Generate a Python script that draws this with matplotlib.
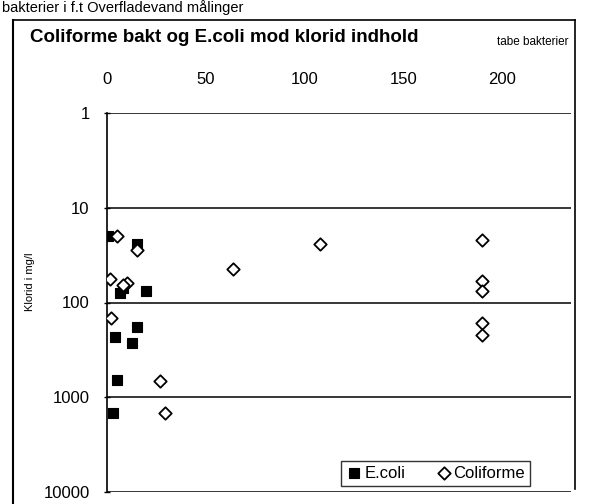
import matplotlib
matplotlib.use("Agg")
import matplotlib.pyplot as plt
from matplotlib.lines import Line2D

plt.rcParams["font.family"] = ["Liberation Sans", "DejaVu Sans"]

# Data
ecoli_x = [0.5, 15, 6.5, 8, 20, 15, 4, 12.5, 5, 3]
ecoli_y = [20, 24, 80, 70, 75, 180, 230, 270, 660, 1470]

coli_x = [5, 15, 1.5, 10, 8, 2, 64, 108, 190, 190, 190, 190, 190, 27, 29.5]
coli_y = [20, 28, 56, 62, 66, 145, 44, 24, 22, 59, 75, 165, 222, 680, 1470]

x_ticks = [0, 50, 100, 150, 200]
y_ticks = [1, 10, 100, 1000, 10000]
y_tick_labels = ["1", "10", "100", "1000", "10000"]

W, H = 597, 504
fig = plt.figure(figsize=(W / 100, H / 100), dpi=100)
fig.patch.set_facecolor("white")

left, right, top, bottom = 107, 571, 113, 492
ax = fig.add_axes([left / W, 1 - bottom / H, (right - left) / W, (bottom - top) / H])

ax.set_yscale("log")
ax.set_ylim(10000, 1)
ax.set_xlim(0, 235)

ax.scatter(ecoli_x, ecoli_y, marker="s", s=55, c="black", edgecolors="black",
           linewidths=0.8, zorder=3, label="E.coli")
ax.scatter(coli_x, coli_y, marker="D", s=40, facecolors="white", edgecolors="black",
           linewidths=1.3, zorder=4, label="Coliforme")

ax.set_yticks(y_ticks)
ax.set_yticklabels(y_tick_labels)
ax.yaxis.set_minor_locator(matplotlib.ticker.NullLocator())
ax.set_xticks(x_ticks)
ax.xaxis.tick_top()
ax.tick_params(axis="x", length=0, pad=19, labelsize=12)
ax.tick_params(axis="y", length=5, width=1, pad=10, labelsize=12, direction="inout")

for v in y_ticks:
    ax.axhline(v, color="black", lw=1.1, zorder=1)

for s in ["top", "right", "bottom"]:
    ax.spines[s].set_visible(False)
ax.spines["left"].set_linewidth(1.2)

leg = ax.legend(loc="lower right", bbox_to_anchor=(0.93, -0.005), ncol=2, frameon=True,
                fontsize=12, handletextpad=0.1, columnspacing=1.8,
                borderpad=0.3, handlelength=1.0, fancybox=False)
leg.get_frame().set_edgecolor("black")
leg.get_frame().set_linewidth(1.0)

# Chart frame (left, top, right)
fig.add_artist(Line2D([13 / W, 13 / W], [0, 1 - 20 / H], color="black", lw=1.5,
                      transform=fig.transFigure))
fig.add_artist(Line2D([13 / W, 575 / W], [1 - 20 / H, 1 - 20 / H], color="black", lw=1.2,
                      transform=fig.transFigure))
fig.add_artist(Line2D([575 / W, 575 / W], [0.03, 1 - 20 / H], color="black", lw=1.2,
                      transform=fig.transFigure))

fig.text(30 / W, 1 - 37 / H, "Coliforme bakt og E.coli mod klorid indhold",
         fontsize=13.5, fontweight="bold", ha="left", va="center")
fig.text(497 / W, 1 - 42 / H, "tabe bakterier", fontsize=8.5, ha="left", va="center")
fig.text(2 / W, 1 - 8 / H, "bakterier i f.t Overfladevand målinger", fontsize=10.5,
         ha="left", va="center")
fig.text(30 / W, 1 - 282 / H, "Klorid i mg/l", fontsize=8, rotation=90,
         ha="center", va="center")

fig.savefig("out.png", dpi=100, facecolor="white")
